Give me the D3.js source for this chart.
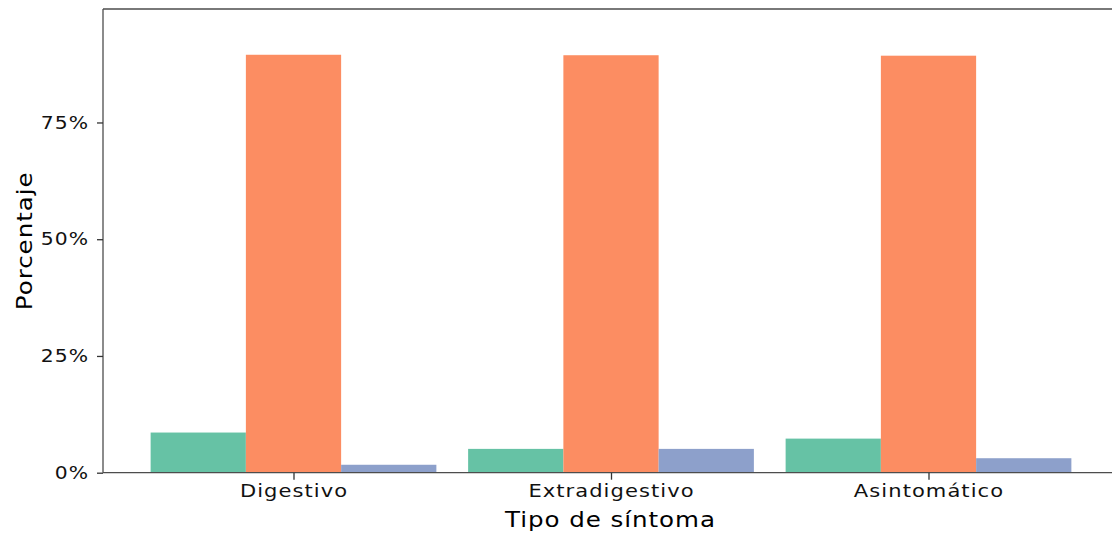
<!DOCTYPE html>
<html>
<head>
<meta charset="utf-8">
<script src="https://cdn.jsdelivr.net/npm/d3@7"></script>
<style>
  html, body { margin: 0; padding: 0; background: #fff; }
  svg { display: block; }
  text { font-family: "DejaVu Sans", "Open Sans", sans-serif; }
</style>
</head>
<body>
<div id="chart"></div>
<script>
// Tipo de síntoma y porcentaje de cada grupo
const categories = ["Digestivo", "Extradigestivo", "Asintomático"];
const seriesNames = ["Grupo 1", "Grupo 2", "Grupo 3"];
const grupo1 = [8.6, 5.1, 7.3];
const grupo2 = [89.5, 89.4, 89.3];
const grupo3 = [1.7, 5.1, 3.1];
const seriesValues = [grupo1, grupo2, grupo3];
const seriesColors = ["#66c2a5", "#fc8d62", "#8da0cb"];
const yTicks = [0, 25, 50, 75];

const W = 1112, H = 537;
const m = { left: 103, top: 9, right: 1119, bottom: 472.7 };
const stretch = 1.17; // wide lettering

const svg = d3.select("#chart").append("svg")
  .attr("width", W).attr("height", H);

const x = d3.scalePoint().domain(categories).range([m.left, m.right]).padding(0.6);
const step = x.step();
const xs = d3.scaleBand().domain(seriesNames).range([-0.45 * step, 0.45 * step]).padding(0);
const y = d3.scaleLinear().domain([0, 99.3]).range([m.bottom, m.top]);

// one row per bar
const rows = [];
categories.forEach((c, i) => {
  seriesNames.forEach((s, j) => {
    rows.push({ cat: c, ser: s, val: seriesValues[j][i], color: seriesColors[j] });
  });
});

svg.append("g").selectAll("rect").data(rows).join("rect")
  .attr("x", d => x(d.cat) + xs(d.ser))
  .attr("width", xs.bandwidth())
  .attr("y", d => y(d.val))
  .attr("height", d => y(0) - y(d.val))
  .attr("fill", d => d.color);

// panel top border
svg.append("line")
  .attr("x1", m.left).attr("x2", m.right)
  .attr("y1", m.top).attr("y2", m.top)
  .attr("stroke", "#4d4d4d").attr("stroke-width", 1.3);

// axes
const yAxis = d3.axisLeft(y).tickValues(yTicks).tickFormat(d => d + "%").tickSize(6).tickPadding(8);
const gy = svg.append("g").attr("transform", `translate(${m.left},0)`).call(yAxis);
const xAxis = d3.axisBottom(x).tickSize(7).tickPadding(5);
const gx = svg.append("g").attr("transform", `translate(0,${m.bottom})`).call(xAxis);

[gy, gx].forEach(g => {
  g.select(".domain").attr("stroke", "#4d4d4d").attr("stroke-width", 1.3);
  g.selectAll(".tick line").attr("stroke", "#333").attr("stroke-width", 1.3);
  g.selectAll(".tick text").attr("fill", "#111")
    .style("font-size", "18px").style("letter-spacing", "0.9px")
    .each(function () {
      const t = d3.select(this);
      const tx = +t.attr("x") || 0;
      t.attr("x", 0).attr("transform", `translate(${tx},0) scale(${stretch},1)`);
    });
});
gy.selectAll(".tick text").attr("transform", function () {
  return this.getAttribute("transform").replace(`scale(${stretch},1)`, "scale(1.13,1)");
});
gy.select(".domain").attr("d", `M0,${m.bottom}V${m.top}`);
gx.select(".domain").attr("d", `M${m.left},0H${m.right}`);

// axis titles
svg.append("text")
  .attr("transform", `translate(${(m.left + m.right) / 2 - 0.5},527) scale(${stretch},1)`)
  .attr("text-anchor", "middle")
  .attr("fill", "#000")
  .style("font-size", "21px").style("letter-spacing", "0.8px")
  .text("Tipo de síntoma");

svg.append("text")
  .attr("transform", `translate(32,${(m.top + m.bottom) / 2}) rotate(-90) scale(${stretch},1)`)
  .attr("text-anchor", "middle")
  .attr("fill", "#000")
  .style("font-size", "21px").style("letter-spacing", "0.8px")
  .text("Porcentaje");
</script>
</body>
</html>
